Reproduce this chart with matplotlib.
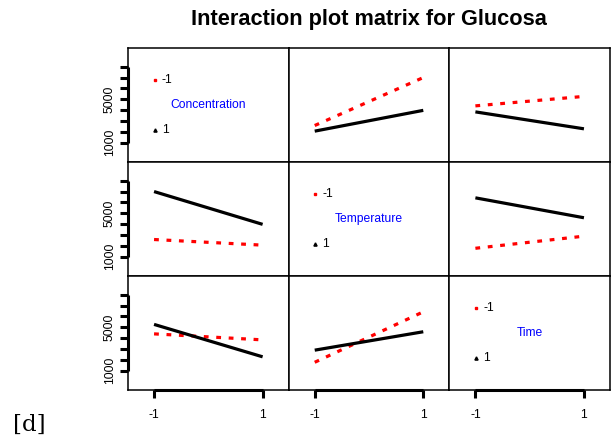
import matplotlib
matplotlib.use("Agg")
import matplotlib.pyplot as plt

plt.rcParams['font.family'] = ['Liberation Sans', 'DejaVu Sans']

# factors and levels of the design
factors = ["Concentration", "Temperature", "Time"]
levels = [-1, 1]
level_labels = ["-1", "1"]

# mean Glucosa: rows = first factor level (-1, 1), cols = second factor level (-1, 1)
conc_temp = [[2570, 7000], [2050, 3970]]
conc_time = [[4385, 5260], [3830, 2265]]
temp_time = [[1760, 2880], [6420, 4580]]

y_ticks = [1000, 2000, 3000, 4000, 5000, 6000, 7000, 8000]
y_ticklabels = ["1000", "", "", "", "5000", "", "", ""]

tables = {(0, 1): conc_temp, (0, 2): conc_time, (1, 2): temp_time}

def get_table(i, j):
    # trace factor i, x factor j
    if (i, j) in tables:
        return tables[(i, j)]
    t = tables[(j, i)]
    return [[t[0][0], t[1][0]], [t[0][1], t[1][1]]]

fig = plt.figure(figsize=(6.12, 4.40), dpi=100)
gs = fig.add_gridspec(3, 3, left=128/612, right=610/612, top=1-48/440,
                      bottom=1-390/440, wspace=0, hspace=0)

xlim = (-1.48, 1.48)
ylim = (-800, 9730)
colors = ["#ff0000", "black"]
fs = 8.7

for i in range(3):
    for j in range(3):
        ax = fig.add_subplot(gs[i, j])
        ax.set_xlim(xlim)
        ax.set_ylim(ylim)
        for s in ax.spines.values():
            s.set_linewidth(1.1)
        if i == j:
            ax.text(0.5, 0.5, factors[i], transform=ax.transAxes, ha='center',
                    va='center', color='#0000ff', fontsize=fs)
            ax.plot([0.165], [0.72], 's', color=colors[0], ms=2,
                    transform=ax.transAxes)
            ax.plot([0.165], [0.285], '^', color=colors[1], ms=2.3,
                    transform=ax.transAxes)
            ax.text(0.21, 0.72, level_labels[0], transform=ax.transAxes,
                    va='center', fontsize=fs)
            ax.text(0.21, 0.285, level_labels[1], transform=ax.transAxes,
                    va='center', fontsize=fs)
        else:
            tab = get_table(i, j)
            ax.plot(levels, tab[0], color=colors[0], lw=2.3,
                    dashes=(1.5, 2.4), dash_capstyle='butt')
            ax.plot(levels, tab[1], color=colors[1], lw=2.3,
                    solid_capstyle='butt')
        if j == 0:
            ax.set_yticks(y_ticks, labels=y_ticklabels)
            ax.tick_params(axis='y', length=5.8, width=2.2, pad=3,
                           labelsize=fs, labelrotation=90)
            for lab in ax.get_yticklabels():
                lab.set_va('center')
            ax.plot([xlim[0], xlim[0]], [y_ticks[0], y_ticks[-1]],
                    color='black', lw=2.2, clip_on=False,
                    solid_capstyle='butt')
        else:
            ax.set_yticks([])
        if i == 2:
            ax.set_xticks(levels, labels=level_labels)
            ax.tick_params(axis='x', length=5.8, width=2.2, pad=8,
                           labelsize=fs)
            ax.plot(levels, [ylim[0], ylim[0]], color='black', lw=2.2,
                    clip_on=False, solid_capstyle='butt')
        else:
            ax.set_xticks([])

fig.text(369/612, 1-20/440, "Interaction plot matrix for Glucosa",
         ha='center', va='center', fontsize=15.7, fontweight='bold')
fig.text(13/612, 1-425/440, "[d]", ha='left', va='center', fontsize=16.5,
         family='DejaVu Serif')

fig.savefig("out.png", dpi=100)
